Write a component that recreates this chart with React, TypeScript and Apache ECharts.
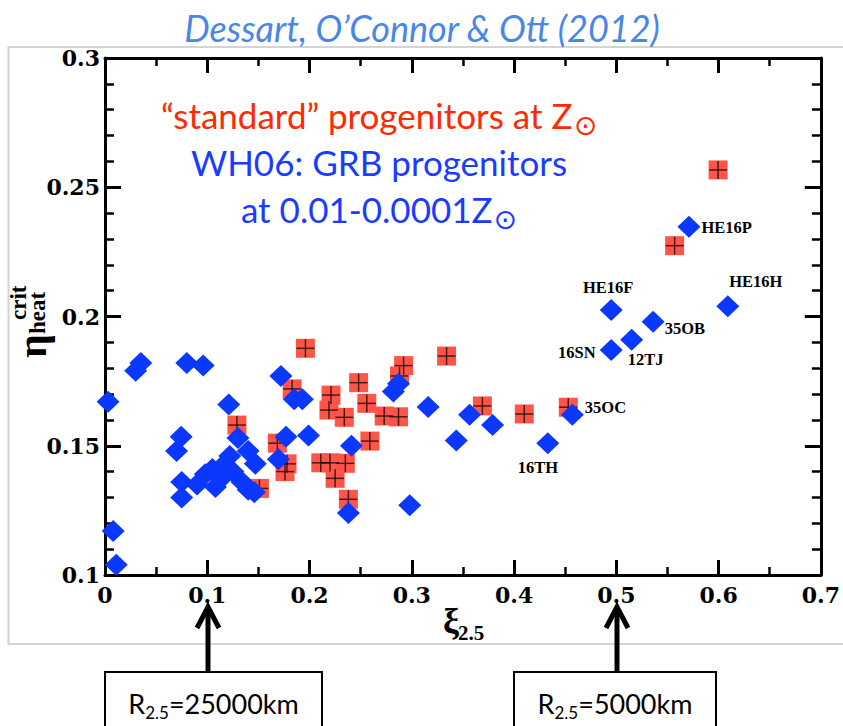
import React, { useEffect, useRef } from 'react';
import * as echarts from 'echarts';

// "standard" progenitors at solar metallicity (red squares)
const standardXi = [0.129, 0.151, 0.1685, 0.178, 0.176, 0.183, 0.196, 0.211, 0.220, 0.235, 0.225, 0.238, 0.221, 0.219, 0.234, 0.248, 0.256, 0.259, 0.273, 0.287, 0.292, 0.288, 0.334, 0.369, 0.410, 0.453, 0.557, 0.5995];
const standardEta = [0.158, 0.1335, 0.151, 0.143, 0.140, 0.172, 0.1877, 0.1434, 0.1434, 0.1432, 0.1374, 0.1293, 0.1696, 0.1638, 0.161, 0.1744, 0.1664, 0.1518, 0.1615, 0.1612, 0.181, 0.177, 0.1847, 0.1654, 0.1623, 0.1649, 0.2274, 0.2567];

// WH06 GRB progenitors (blue diamonds)
const wh06Xi = [0.003, 0.008, 0.011, 0.030, 0.035, 0.080, 0.096, 0.121, 0.0745, 0.070, 0.075, 0.075, 0.090, 0.098, 0.105, 0.108, 0.113, 0.117, 0.122, 0.125, 0.130, 0.134, 0.140, 0.147, 0.140, 0.146, 0.172, 0.185, 0.193, 0.177, 0.199, 0.1695, 0.241, 0.238, 0.298, 0.282, 0.287, 0.316, 0.3435, 0.3565, 0.379, 0.433, 0.457, 0.495, 0.515, 0.536, 0.495, 0.609, 0.571];
const wh06Eta = [0.167, 0.117, 0.104, 0.179, 0.182, 0.182, 0.181, 0.166, 0.1535, 0.148, 0.136, 0.130, 0.135, 0.139, 0.141, 0.134, 0.137, 0.143, 0.146, 0.140, 0.153, 0.136, 0.148, 0.143, 0.133, 0.132, 0.177, 0.168, 0.168, 0.1535, 0.154, 0.1448, 0.150, 0.124, 0.127, 0.171, 0.174, 0.165, 0.152, 0.162, 0.158, 0.151, 0.162, 0.187, 0.191, 0.198, 0.2025, 0.204, 0.2347];
const wh06Names = ['', '', '', '', '', '', '', '', '', '', '', '', '', '', '', '', '', '', '', '', '', '', '', '', '', '', '', '', '', '', '', '', '', '', '', '', '', '', '', '', '', '16TH', '35OC', '16SN', '12TJ', '35OB', 'HE16F', 'HE16H', 'HE16P'];

// axis ranges / ticks
const xMin = 0, xMax = 0.7, xStep = 0.1;
const yMin = 0.1, yMax = 0.3, yStep = 0.05;

const labelPlacement: Record<string, any> = {
  '16TH': { position: 'bottom', distance: 5, offset: [-10, 0] },
  '35OC': { position: 'right', distance: 1, offset: [0, -7] },
  '16SN': { position: 'left', distance: 4, offset: [0, 2] },
  '12TJ': { position: 'bottom', distance: 3, offset: [14, -3] },
  '35OB': { position: 'right', distance: 0, offset: [0, 7] },
  'HE16F': { position: 'top', distance: 3, offset: [-3, 0] },
  'HE16H': { position: 'top', distance: 5, offset: [28, 0] },
  'HE16P': { position: 'right', distance: 1, offset: [0, 1] },
};

const tickFont = { fontFamily: 'DejaVu Serif', fontWeight: 'bold' as const, fontSize: 22, color: '#000' };

function makeXAxis(pos: 'bottom' | 'top') {
  return {
    type: 'value', position: pos, min: xMin, max: xMax, interval: xStep,
    axisLine: { show: true, onZero: false, lineStyle: { color: '#000', width: 3 } },
    axisTick: { show: true, inside: true, length: 15, lineStyle: { color: '#000', width: 3 } },
    minorTick: { show: true, splitNumber: 2, length: 8, lineStyle: { color: '#000', width: 2.5 } },
    splitLine: { show: false },
    axisLabel: pos === 'bottom' ? { show: true, margin: 9, ...tickFont } : { show: false },
  };
}
function makeYAxis(pos: 'left' | 'right') {
  return {
    type: 'value', position: pos, min: yMin, max: yMax, interval: yStep,
    axisLine: { show: true, onZero: false, lineStyle: { color: '#000', width: 3 } },
    axisTick: { show: true, inside: true, length: 16, lineStyle: { color: '#000', width: 3 } },
    minorTick: { show: true, splitNumber: 5, length: 9, lineStyle: { color: '#000', width: 2.5 } },
    splitLine: { show: false },
    axisLabel: pos === 'left' ? { show: true, margin: 5, ...tickFont } : { show: false },
  };
}

function arrow(x: number) {
  return [
    { type: 'line', shape: { x1: x, y1: 608, x2: x, y2: 672 }, style: { stroke: '#000', lineWidth: 5 } },
    { type: 'polyline', shape: { points: [[x - 11, 628], [x, 607], [x + 11, 628]] }, style: { stroke: '#000', lineWidth: 5, fill: 'none' } },
  ];
}

function box(x1: number, x2: number, value: string) {
  return [
    { type: 'rect', shape: { x: x1, y: 672, width: x2 - x1, height: 70 }, style: { fill: '#fff', stroke: '#000', lineWidth: 2 } },
    {
      type: 'text', x: (x1 + x2) / 2, y: 703,
      style: {
        text: `{m|R}{s|2.5}{m|=${value}}`,
        align: 'center', verticalAlign: 'middle',
        rich: {
          m: { fontFamily: 'Lato', fontSize: 27, fill: '#000', lineHeight: 34 },
          s: { fontFamily: 'Lato', fontSize: 17, fill: '#000', lineHeight: 16, padding: [18, 0, 0, 0] },
        },
      },
    },
  ];
}

export default function App() {
  const ref = useRef<HTMLDivElement>(null);
  useEffect(() => {
    if (!ref.current) return;
    const chart = echarts.init(ref.current, undefined, { renderer: 'svg' });

    const redData = standardXi.map((x, i) => [x, standardEta[i]]);
    const blueData = wh06Xi.map((x, i) => {
      const name = wh06Names[i];
      const item: any = { value: [x, wh06Eta[i]], name };
      if (name) item.label = { show: true, ...labelPlacement[name] };
      return item;
    });

    const annStyle = (color: string) => ({
      m: { fontFamily: 'Lato', fontSize: 35, fill: color, lineHeight: 40 },
      s: { fontFamily: 'DejaVu Sans', fontSize: 28, fill: color, lineHeight: 22, padding: [20, 0, 0, 1] },
    });

    chart.setOption({
      animation: false,
      backgroundColor: '#fff',
      grid: { left: 105, top: 58, width: 720, height: 517 },
      xAxis: [makeXAxis('bottom'), makeXAxis('top')],
      yAxis: [makeYAxis('left'), makeYAxis('right')],
      series: [
        {
          type: 'scatter', xAxisIndex: 0, yAxisIndex: 0, data: redData,
          symbol: 'rect', symbolSize: 19, itemStyle: { color: '#ff5548', opacity: 1 }, z: 2,
        },
        {
          type: 'custom', xAxisIndex: 0, yAxisIndex: 0, data: redData, z: 3,
          renderItem: (params: any, api: any) => {
            const p = api.coord([api.value(0), api.value(1)]);
            const h = 9;
            const st = { stroke: '#000', lineWidth: 1.5, opacity: 0.7 };
            return {
              type: 'group',
              children: [
                { type: 'line', shape: { x1: p[0] - h, y1: p[1], x2: p[0] + h, y2: p[1] }, style: st },
                { type: 'line', shape: { x1: p[0], y1: p[1] - h, x2: p[0], y2: p[1] + h }, style: st },
              ],
            };
          },
        },
        {
          type: 'scatter', xAxisIndex: 0, yAxisIndex: 0, data: blueData,
          symbol: 'diamond', symbolSize: [23, 22], itemStyle: { color: '#0a38ff', opacity: 1 }, z: 4,
          label: { show: false, formatter: '{b}', fontFamily: 'Liberation Serif', fontWeight: 'bold', fontSize: 16.5, color: '#000' },
        },
      ],
      graphic: [
        { type: 'rect', z: -10, shape: { x: 8.5, y: 47, width: 850, height: 597 }, style: { fill: 'none', stroke: '#d4d4d4', lineWidth: 2 } },
        {
          type: 'text', x: 422, y: 28,
          style: { text: 'Dessart, O’Connor & Ott (2012)', fontStyle: 'italic', fontSize: 36, fontFamily: 'Lato', fill: '#4a86e8', align: 'center', verticalAlign: 'middle' },
        },
        {
          type: 'text', x: 379, y: 95,
          style: { text: '{m|“standard” progenitors at Z}{s|⊙}', align: 'center', verticalAlign: 'top', rich: annStyle('#ff2a00') },
        },
        {
          type: 'text', x: 379, y: 142,
          style: { text: '{m|WH06: GRB progenitors}', align: 'center', verticalAlign: 'top', rich: annStyle('#1a3cff') },
        },
        {
          type: 'text', x: 379, y: 189,
          style: { text: '{m|at 0.01-0.0001Z}{s|⊙}', align: 'center', verticalAlign: 'top', rich: annStyle('#1a3cff') },
        },
        // x-axis name ξ_2.5
        { type: 'text', x: 459, y: 621, style: { text: 'ξ', font: 'bold 36px "Liberation Serif"', fill: '#000', align: 'right', verticalAlign: 'middle' } },
        { type: 'text', x: 458, y: 633, style: { text: '2.5', font: 'bold 21px "Liberation Serif"', fill: '#000', align: 'left', verticalAlign: 'middle' } },
        // y-axis name η^crit_heat (rotated)
        {
          type: 'group', x: 38, y: 358, rotation: Math.PI / 2,
          children: [
            { type: 'text', x: 0, y: -6, style: { text: 'η', font: 'bold 42px "Liberation Serif"', fill: '#000', align: 'left', verticalAlign: 'middle' } },
            { type: 'text', x: 24, y: -1, style: { text: 'heat', font: 'bold 23px "Liberation Serif"', fill: '#000', align: 'left', verticalAlign: 'middle' } },
            { type: 'text', x: 38, y: -20, style: { text: 'crit', font: 'bold 23px "Liberation Serif"', fill: '#000', align: 'left', verticalAlign: 'middle' } },
          ],
        },
        ...arrow(208),
        ...arrow(617),
        ...box(105, 322, '25000km'),
        ...box(514, 716, '5000km'),
      ],
    });
    return () => chart.dispose();
  }, []);
  return <div ref={ref} style={{ position: 'fixed', left: 0, top: 0, width: 843, height: 726, background: '#fff' }} />;
}
